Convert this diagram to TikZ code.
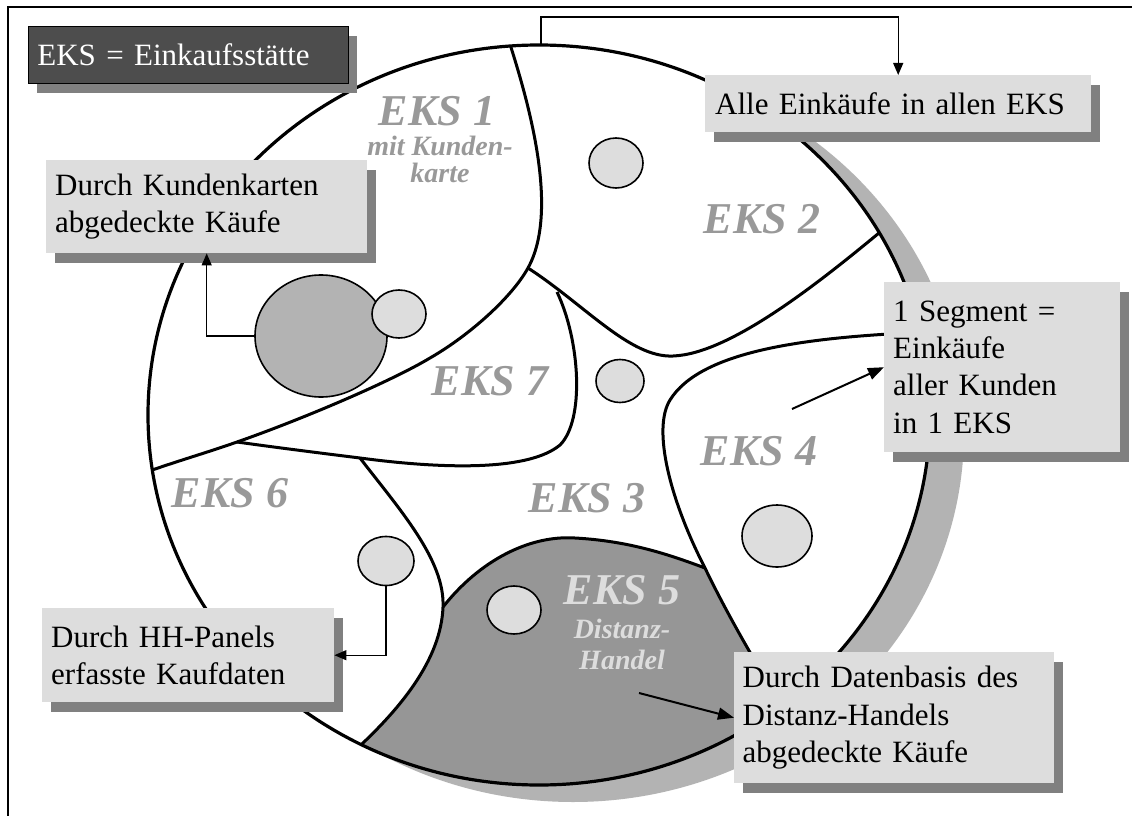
\documentclass[tikz,border=0pt]{standalone}
\usepackage{fontspec}
\setmainfont{Liberation Serif}
\usetikzlibrary{arrows.meta,shapes.geometric,shadows}
\definecolor{boxfill}{HTML}{DDDDDD}
\definecolor{shadowc}{HTML}{808080}
\definecolor{darkbox}{HTML}{4D4D4D}
\definecolor{lblgray}{HTML}{999999}
\definecolor{lightlbl}{HTML}{DDDDDD}
\definecolor{segfive}{HTML}{969696}
\definecolor{bigc}{HTML}{B3B3B3}
\definecolor{rimshadow}{HTML}{B3B3B3}
\begin{document}
\begin{tikzpicture}[x=1pt,y=-1pt,
  infobox/.style={fill=boxfill, anchor=north west, inner xsep=9pt, inner ysep=0pt,
    align=left, font=\fontsize{31}{37.3}\selectfont,
    drop shadow={shadow xshift=9pt, shadow yshift=-10pt, fill=shadowc, opacity=1}},
  segline/.style={line width=3pt, line join=round},
  pcirc/.style={ellipse, draw, line width=1.6pt, fill=boxfill, inner sep=0pt},
  lbl/.style={text=lblgray, anchor=base, inner sep=0pt, font=\fontsize{44}{44}\selectfont\bfseries\itshape},
  lblsmall/.style={text=lblgray, anchor=base, inner sep=0pt, font=\fontsize{28}{28}\selectfont\bfseries\itshape},
  conn/.style={line width=1.3pt, -{Triangle[length=12pt,width=10pt]}},
  bigarrow/.style={line width=2pt, -{Triangle[length=16pt,width=12pt]}}
]
\useasboundingbox (0,0) rectangle (1132,816);
\fill[white] (0,0) rectangle (1132,816);
% frame
\draw[line width=2.5pt] (8,816) -- (8,7) -- (1132,7);
% rim shadow and disc
\fill[rimshadow] (573,432) ellipse [x radius=391, y radius=370];
\fill[white] (539,415) ellipse [x radius=391, y radius=370];
\begin{scope}
\clip (539,415) ellipse [x radius=391, y radius=370];
\fill[segfive] (443,607) .. controls (480,560) and (530,535) .. (575,538)
  .. controls (630,541) and (670,555) .. (705,568)
  .. controls (730,620) and (760,670) .. (790,720) -- (820,800) -- (330,800) -- (350,755)
  .. controls (400,710) and (441,660) .. (443,607) -- cycle;
% A + D
\draw[segline] (508,38) .. controls (528,100) and (560,210) .. (528,268)
  .. controls (512,297) and (470,335) .. (430,358)
  .. controls (390,382) and (300,420) .. (237,442)
  .. controls (200,455) and (170,463) .. (130,478);
% B
\draw[segline] (528,268) .. controls (585,305) and (630,358) .. (673,356)
  .. controls (730,354) and (820,282) .. (885,228);
% E
\draw[segline] (237,442) .. controls (280,448) and (320,453) .. (360,458)
  .. controls (450,470) and (530,470) .. (560,445)
  .. controls (585,420) and (580,340) .. (557,292);
% F
\draw[segline] (360,458) .. controls (400,510) and (445,560) .. (443,607)
  .. controls (441,660) and (400,710) .. (350,755);
% G
\draw[segline] (443,607) .. controls (480,560) and (530,535) .. (575,538)
  .. controls (630,541) and (670,555) .. (705,568);
% C
\draw[segline] (930,332) .. controls (800,337) and (700,352) .. (670,400)
  .. controls (652,429) and (670,500) .. (705,568)
  .. controls (730,620) and (760,670) .. (790,720);
\end{scope}
\draw[line width=3.2pt] (539,415) ellipse [x radius=391, y radius=370];
\coordinate (rimtop) at (541,45);
% circles
\node[pcirc, fill=bigc, minimum width=132pt, minimum height=122pt] (big) at (321,336) {};
\node[pcirc, minimum width=54pt, minimum height=48pt] (c1) at (399,314) {};
\node[pcirc, minimum width=54pt, minimum height=50pt] (c2) at (616,163) {};
\node[pcirc, minimum width=48pt, minimum height=43pt] (c3) at (620,381) {};
\node[pcirc, minimum width=70pt, minimum height=62pt] (c4) at (777,536) {};
\node[pcirc, minimum width=54pt, minimum height=48pt] (c5) at (514,610) {};
\node[pcirc, minimum width=56pt, minimum height=49pt] (c6) at (386,561) {};
% labels
\node[lbl] (l1) at (437,125) {EKS 1};
\node[lblsmall] (l1b) at (440,155) {mit Kunden-};
\node[lblsmall] (l1c) at (440,182) {karte};
\node[lbl] (l2) at (762,233) {EKS 2};
\node[lbl] (l3) at (587,512) {EKS 3};
\node[lbl] (l4) at (759,465) {EKS 4};
\node[lbl, text=lightlbl] (l5) at (622,604) {EKS 5};
\node[lblsmall, text=lightlbl] (l5b) at (622,638) {Distanz-};
\node[lblsmall, text=lightlbl] (l5c) at (622,669) {Handel};
\node[lbl] (l6) at (230,507) {EKS 6};
\node[lbl] (l7) at (490,395) {EKS 7};
% boxes
\node[infobox, fill=darkbox, draw=black, line width=0.8pt, text=white, text width=302pt, minimum height=57pt] (eks) at (28,26) {EKS = Einkaufsstätte};
\node[infobox, text width=303pt, minimum height=93pt] (kk) at (46,160) {Durch Kundenkarten\\abgedeckte Käufe};
\node[infobox, inner xsep=10pt, text width=366pt, minimum height=57pt] (alle) at (705,75) {Alle Einkäufe in allen EKS};
\node[infobox, text width=218pt, minimum height=170pt] (seg) at (884,282) {1 Segment =\\Einkäufe\\aller Kunden\\in 1 EKS};
\node[infobox, text width=274pt, minimum height=94pt] (hh) at (42,608) {Durch HH-Panels\\erfasste Kaufdaten};
\node[infobox, inner xsep=8.5pt, text width=303pt, minimum height=131pt] (db) at (734,652) {Durch Datenbasis des\\Distanz-Handels\\abgedeckte Käufe};
% connectors
\draw[conn] (rimtop) -- ++(0,-28) -| (alle.north);
\draw[conn] (big.west) -| (kk.south);
\draw[conn] (c6.south) |- (hh.east);
\coordinate (a4) at (792,409);
\draw[bigarrow] (a4) -- (seg.west);
\coordinate (a5) at (639,693);
\draw[bigarrow] (a5) -- (db.west);
\end{tikzpicture}
\end{document}
